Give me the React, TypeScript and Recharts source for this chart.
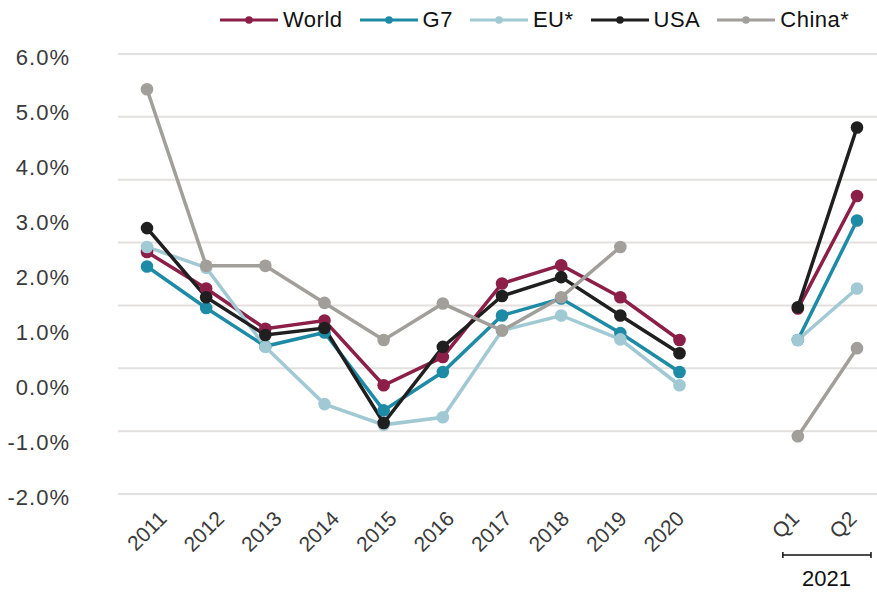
import React from "react";
import { LineChart, Line, XAxis, YAxis, ReferenceLine } from "recharts";

const categories = ["2011", "2012", "2013", "2014", "2015", "2016", "2017", "2018", "2019", "2020", "", "Q1", "Q2"];
const world = [2.85, 2.27, 1.63, 1.76, 0.73, 1.18, 2.35, 2.64, 2.13, 1.45, null, 1.95, 3.74];
const g7 = [2.62, 1.96, 1.35, 1.57, 0.33, 0.94, 1.84, 2.11, 1.56, 0.94, null, 1.45, 3.35];
const eu = [2.93, 2.6, 1.34, 0.43, 0.1, 0.22, 1.6, 1.84, 1.46, 0.73, null, 1.45, 2.27];
const usa = [3.23, 2.13, 1.53, 1.64, 0.13, 1.34, 2.15, 2.45, 1.84, 1.24, null, 1.97, 4.83];
const china = [5.44, 2.63, 2.63, 2.04, 1.45, 2.03, 1.6, 2.13, 2.93, null, null, -0.08, 1.32];

const gridValues = [-1, 0, 1, 2, 3, 4, 5, 6];
const labelTicks = [-2, -1, 0, 1, 2, 3, 4, 5, 6];
const yearGroupLabel = "2021";

const series = [
  { key: "world", name: "World", color: "#8c1f48", values: world },
  { key: "g7", name: "G7", color: "#1e8ba6", values: g7 },
  { key: "eu", name: "EU*", color: "#a0c9d3", values: eu },
  { key: "usa", name: "USA", color: "#1f1f1f", values: usa },
  { key: "china", name: "China*", color: "#a29e9a", values: china },
];

const data = categories.map((c, i) => {
  const row: any = { label: c };
  series.forEach((s) => {
    row[s.key] = s.values[i];
  });
  return row;
});

const W = 877;
const H = 592;
const PLOT_LEFT = 118;
const PLOT_TOP = 54;
const XAXIS_H = 98;
const PAD_L = 29;
const PAD_R = 20;
const FONT = '"Liberation Sans", Arial, Helvetica, sans-serif';

const step = (W - PLOT_LEFT - PAD_L - PAD_R) / (categories.length - 1);
const q1x = PLOT_LEFT + PAD_L + categories.indexOf("Q1") * step;
const q2x = PLOT_LEFT + PAD_L + categories.indexOf("Q2") * step;

const YTick = (props: any) => {
  const { x, y, payload } = props;
  return (
    <text x={x} y={y} dy={11} textAnchor="end" fontSize={22} letterSpacing={1} fill="#3a3a3a" fontFamily={FONT}>
      {`${Number(payload.value).toFixed(1)}%`}
    </text>
  );
};

const XTick = (props: any) => {
  const { x, y, payload } = props;
  if (!payload.value) return <g />;
  const ty = y + 26;
  return (
    <text x={x} y={ty} textAnchor="end" fontSize={21} fill="#3a3a3a" fontFamily={FONT} transform={`rotate(-45, ${x}, ${ty})`}>
      {payload.value}
    </text>
  );
};

export default function App() {
  return (
    <div style={{ position: "absolute", left: 0, top: 0, width: W, height: H, background: "#fff", fontFamily: FONT }}>
      <LineChart width={W} height={H} data={data} margin={{ top: PLOT_TOP, right: 0, left: 0, bottom: 0 }}>
        <XAxis xAxisId="main" dataKey="label" hide padding={{ left: PAD_L, right: PAD_R }} interval={0} />
        <XAxis
          xAxisId="lbl"
          dataKey="label"
          height={XAXIS_H}
          padding={{ left: 50, right: 19 }}
          interval={0}
          axisLine={false}
          tickLine={false}
          tickSize={0}
          tickMargin={0}
          tick={<XTick />}
        />
        <YAxis yAxisId="main" hide domain={[-1, 6]} type="number" allowDataOverflow />
        <YAxis
          yAxisId="lbl"
          width={PLOT_LEFT}
          domain={[-2, 6]}
          type="number"
          allowDataOverflow
          ticks={labelTicks}
          interval={0}
          axisLine={false}
          tickLine={false}
          tickSize={0}
          tickMargin={48}
          tick={<YTick />}
        />
        {gridValues.map((v) => (
          <ReferenceLine key={v} xAxisId="main" yAxisId="main" y={v} stroke="#e3e1df" strokeWidth={2} />
        ))}
        <Line
          xAxisId="lbl"
          yAxisId="lbl"
          dataKey="none"
          stroke="none"
          dot={false}
          activeDot={false}
          legendType="none"
          isAnimationActive={false}
        />
        {series.map((s) => (
          <Line
            key={s.key}
            xAxisId="main"
            yAxisId="main"
            dataKey={s.key}
            name={s.name}
            stroke={s.color}
            strokeWidth={3.5}
            dot={{ r: 6.3, fill: s.color, stroke: s.color, strokeWidth: 0 }}
            activeDot={false}
            isAnimationActive={false}
            connectNulls={false}
            type="linear"
          />
        ))}
      </LineChart>
      <svg width={W} height={H} style={{ position: "absolute", left: 0, top: 0, pointerEvents: "none" }}>
        <line x1={q1x - 15} x2={q2x + 14} y1={555} y2={555} stroke="#111" strokeWidth={1.5} />
        <line x1={q1x - 15} x2={q1x - 15} y1={552} y2={558} stroke="#111" strokeWidth={1.5} />
        <line x1={q2x + 14} x2={q2x + 14} y1={552} y2={558} stroke="#111" strokeWidth={1.5} />
        <text x={(q1x + q2x) / 2 - 1} y={586} textAnchor="middle" fontSize={22} fill="#111" fontFamily={FONT}>
          {yearGroupLabel}
        </text>
      </svg>
      <div style={{ position: "absolute", left: 220, top: 8, height: 24, display: "flex", alignItems: "center", gap: 17 }}>
        {series.map((s) => (
          <div key={s.key} style={{ display: "flex", alignItems: "center" }}>
            <svg width={58} height={12} style={{ marginRight: 5 }}>
              <line x1={0} x2={58} y1={6} y2={6} stroke={s.color} strokeWidth={3} />
              <circle cx={29} cy={6} r={3.8} fill={s.color} />
            </svg>
            <span style={{ fontSize: 22, color: "#111", lineHeight: "24px", letterSpacing: 0.5 }}>{s.name}</span>
          </div>
        ))}
      </div>
    </div>
  );
}
